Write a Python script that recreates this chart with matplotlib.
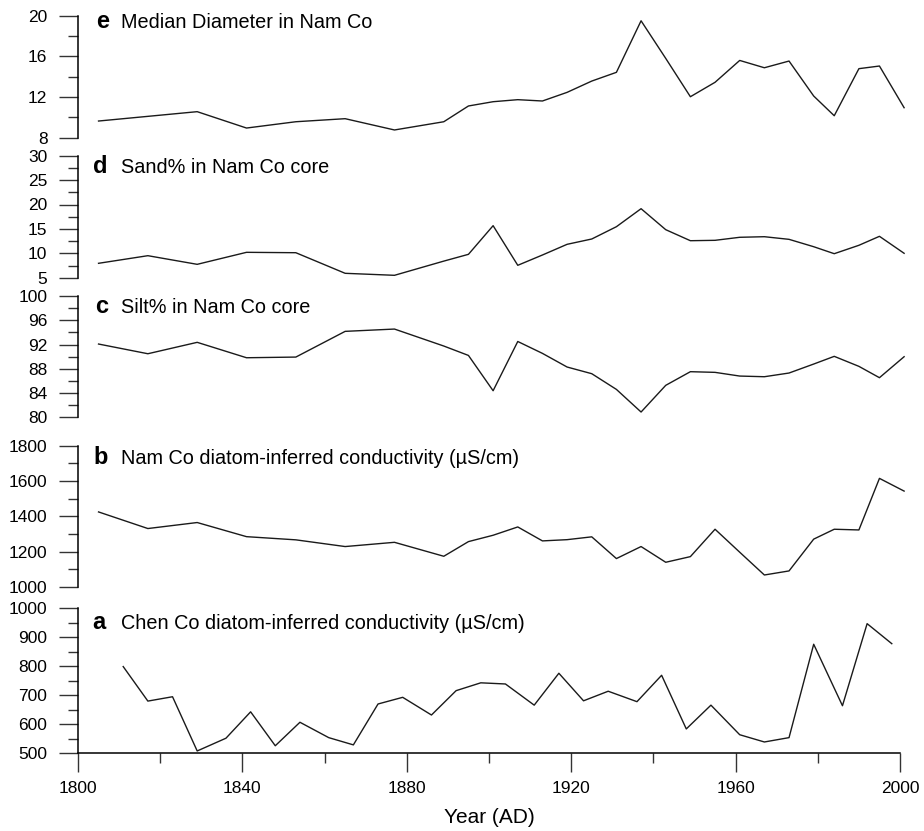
import matplotlib
matplotlib.use("Agg")
import matplotlib.pyplot as plt
from matplotlib.ticker import MultipleLocator

plt.rcParams['font.family'] = ['Liberation Sans', 'DejaVu Sans']

# ---- data ----
nam_years = [1805, 1817, 1829, 1841, 1853, 1865, 1877, 1889, 1895, 1901, 1907, 1913,
             1919, 1925, 1931, 1937, 1943, 1949, 1955, 1961, 1967, 1973, 1979, 1984,
             1990, 1995, 2001]
median_diam = [9.64, 10.1, 10.56, 8.95, 9.57, 9.87, 8.76, 9.57, 11.12, 11.54, 11.74, 11.61,
               12.46, 13.57, 14.43, 19.5, 15.8, 12.03, 13.45, 15.6, 14.88, 15.54, 12.1, 10.16,
               14.79, 15.05, 10.95]
sand_pct = [7.95, 9.51, 7.74, 10.2, 10.12, 5.9, 5.49, 8.4, 9.79, 15.66, 7.54, 9.65,
            11.84, 12.93, 15.45, 19.14, 14.84, 12.58, 12.66, 13.28, 13.4, 12.86, 11.35, 9.92,
            11.64, 13.48, 10.0]
silt_pct = [92.08, 90.48, 92.36, 89.82, 89.93, 94.17, 94.55, 91.75, 90.2, 84.38, 92.5, 90.54,
            88.29, 87.19, 84.6, 80.87, 85.27, 87.52, 87.41, 86.8, 86.69, 87.3, 88.78, 90.05,
            88.4, 86.53, 89.99]
nam_cond = [1425, 1331, 1365, 1285, 1267, 1229, 1253, 1174, 1257, 1293, 1340, 1261,
            1268, 1284, 1161, 1229, 1140, 1172, 1327, 1197, 1068, 1091, 1271, 1327,
            1323, 1615, 1543]

chen_years = [1811, 1817, 1823, 1829, 1836, 1842, 1848, 1854, 1861, 1867, 1873, 1879,
              1886, 1892, 1898, 1904, 1911, 1917, 1923, 1929, 1936, 1942, 1948, 1954,
              1961, 1967, 1973, 1979, 1986, 1992, 1998]
chen_cond = [798, 679, 694, 507, 551, 642, 525, 606, 553, 528, 669, 692,
             631, 715, 742, 738, 665, 775, 680, 713, 677, 768, 583, 665,
             563, 538, 553, 875, 663, 946, 877]

panel_letters = ['e', 'd', 'c', 'b', 'a']
panel_titles = ['Median Diameter in Nam Co', 'Sand% in Nam Co core', 'Silt% in Nam Co core',
                'Nam Co diatom-inferred conductivity (\u00b5S/cm)',
                'Chen Co diatom-inferred conductivity (\u00b5S/cm)']
x_ticks = [1800, 1840, 1880, 1920, 1960, 2000]

# ---- layout (pixels) ----
W, H = 924, 831
fig = plt.figure(figsize=(W / 100, H / 100), dpi=100)
left_px, right_px = 78, 900
panels = [
    # top_px, bottom_px, ylim, major, minor, x, y, baseline frac, letter x px
    (15.7, 137.7, (8, 20), 4, 2, nam_years, median_diam, 0.899, 96),
    (155.7, 277.7, (5, 30), 5, 2.5, nam_years, sand_pct, 0.856, 93),
    (296.0, 417.3, (80, 100), 4, 2, nam_years, silt_pct, 0.862, 95),
    (445.7, 587.0, (1000, 1800), 200, 100, nam_years, nam_cond, 0.868, 93),
    (608.0, 753.0, (500, 1000), 100, 50, chen_years, chen_cond, 0.853, 92),
]

line_color = '#1a1a1a'
for i, (top, bot, ylim, maj, mnr, xs, ys, tb, lx) in enumerate(panels):
    ax = fig.add_axes([left_px / W, (H - bot) / H, (right_px - left_px) / W, (bot - top) / H])
    ax.patch.set_alpha(0)
    ax.plot(xs, ys, color=line_color, lw=1.0, clip_on=False)
    ax.set_xlim(1800, 2000)
    ax.set_ylim(*ylim)
    ax.yaxis.set_major_locator(MultipleLocator(maj))
    ax.yaxis.set_minor_locator(MultipleLocator(mnr))
    for s in ['top', 'right']:
        ax.spines[s].set_visible(False)
    ax.spines['left'].set_linewidth(1.1)
    ax.tick_params(axis='y', which='major', length=14, width=1.0, pad=8,
                   labelsize=12.5, color='#333333')
    ax.tick_params(axis='y', which='minor', length=7, width=1.0, color='#333333')
    last = (i == len(panels) - 1)
    if last:
        ax.spines['bottom'].set_linewidth(1.1)
        ax.set_xticks(x_ticks)
        ax.xaxis.set_minor_locator(MultipleLocator(20))
        ax.tick_params(axis='x', which='major', length=14, width=1.0, pad=6,
                       labelsize=12.5, color='#333333')
        ax.tick_params(axis='x', which='minor', length=7, width=1.0, color='#333333')
        ax.set_xlabel('Year (AD)', fontsize=15, labelpad=9)
    else:
        ax.spines['bottom'].set_visible(False)
        ax.set_xticks([])
    ax.text((lx - left_px) / (right_px - left_px), tb, panel_letters[i], transform=ax.transAxes,
            fontsize=17, fontweight='bold', ha='left', va='baseline')
    ax.text((121 - left_px) / (right_px - left_px), tb, panel_titles[i], transform=ax.transAxes,
            fontsize=14.3, ha='left', va='baseline')

fig.savefig('out.png', dpi=100)
